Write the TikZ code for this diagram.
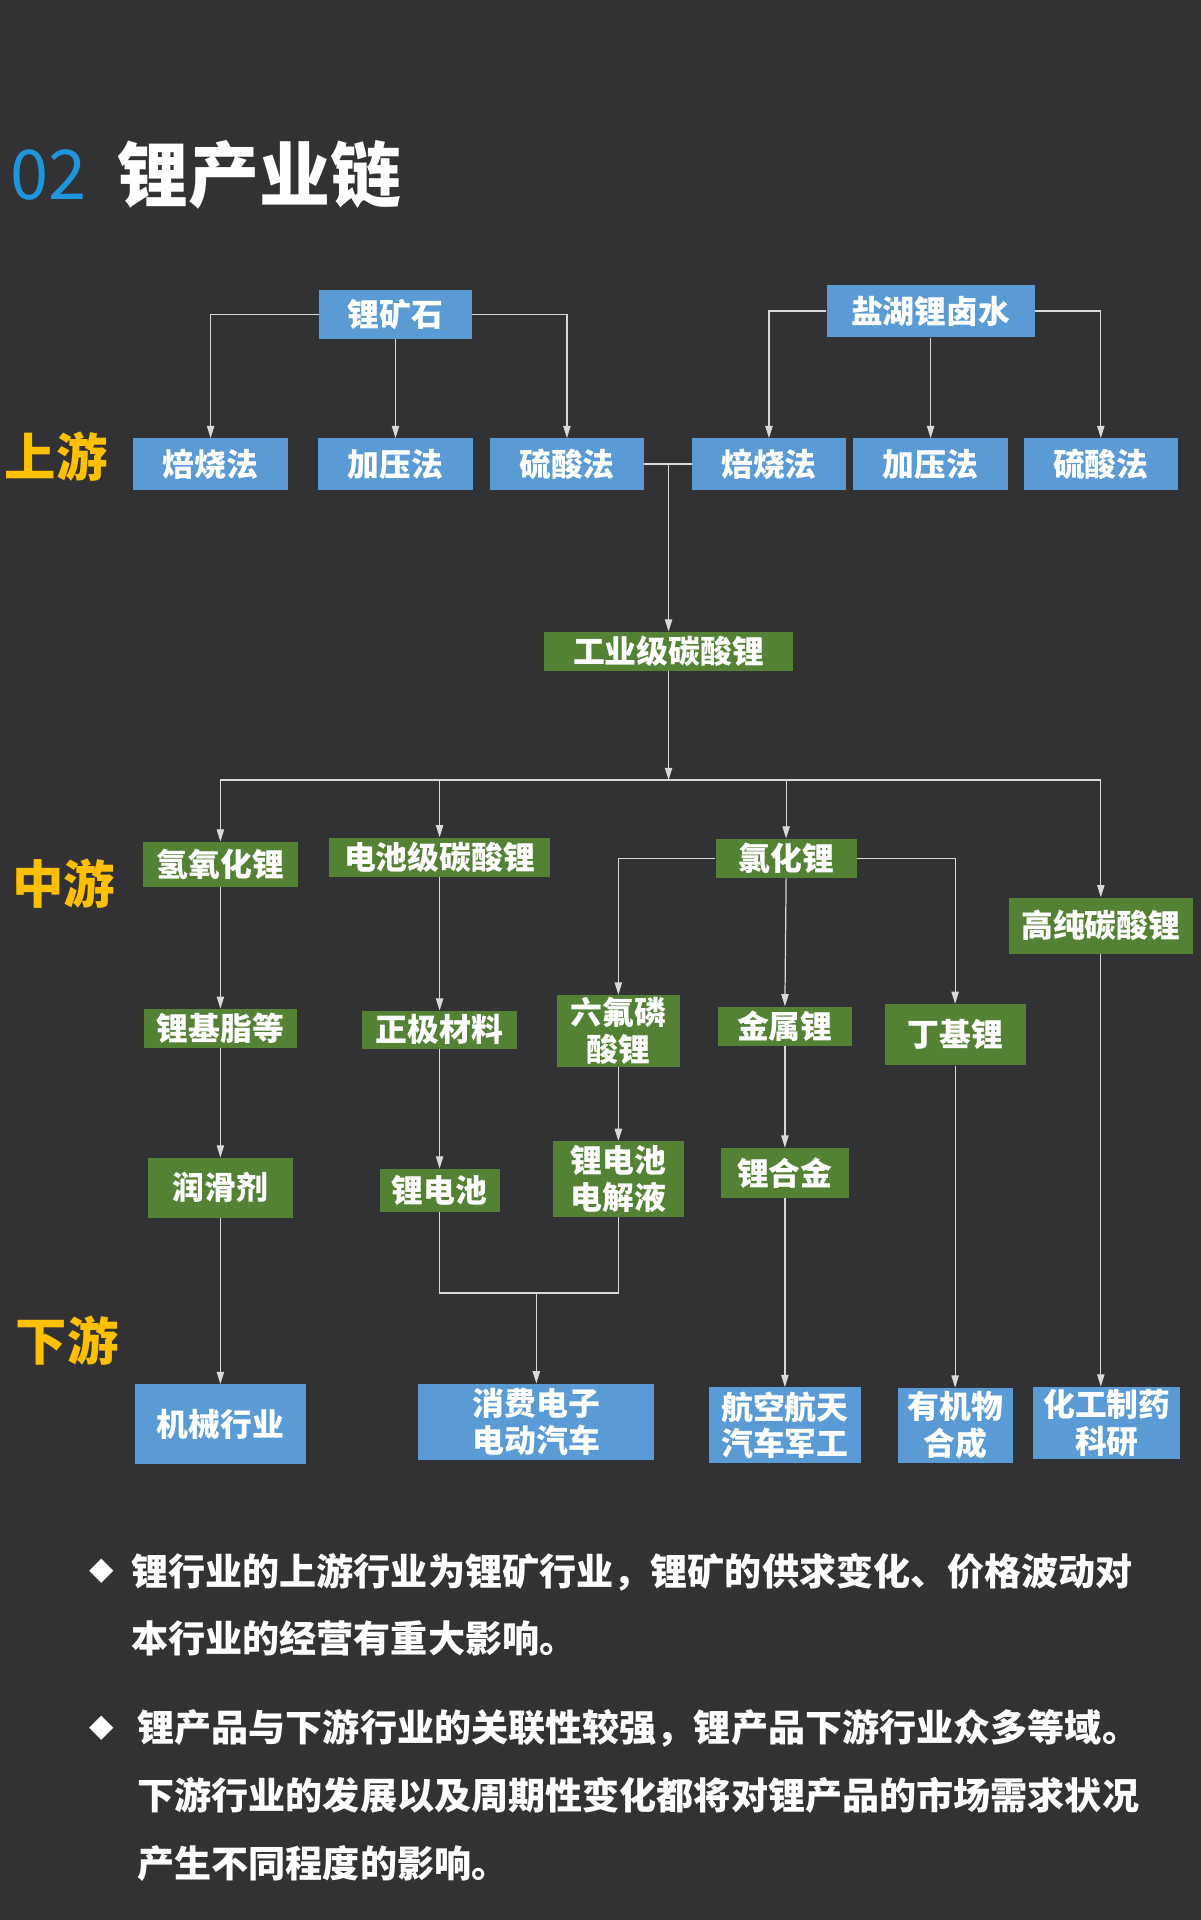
\documentclass[tikz,border=0pt]{standalone}
\usepackage{fontspec}
\setmainfont{Noto Sans CJK SC}
\newfontfamily\symfont{DejaVu Sans}
\usetikzlibrary{arrows.meta}

\definecolor{bgdark}{HTML}{323234}
\definecolor{upblue}{HTML}{5B9BD5}
\definecolor{midgreen}{HTML}{548235}
\definecolor{stageyellow}{HTML}{FFC000}
\definecolor{titleblue}{HTML}{1E96DC}
\definecolor{linegray}{HTML}{D9D9D9}

\begin{document}
\begin{tikzpicture}[x=1pt,y=-1pt,
  ubox/.style={fill=upblue, text=white, inner sep=0pt, align=center,
    font=\fontsize{26}{30}\selectfont\bfseries},
  mbox/.style={ubox, fill=midgreen},
  stage/.style={text=stageyellow, inner sep=0pt,
    font=\fontsize{42}{44}\selectfont\bfseries},
  link/.style={draw=linegray, line width=1pt},
  arr/.style={link, -{Triangle[length=10pt,width=6pt]}},
  note/.style={text=white, inner sep=0pt, anchor=west, align=left,
    font=\fontsize{30.3}{55.5}\selectfont\bfseries}]

\useasboundingbox (0,0) rectangle (980,1568);
\fill[bgdark] (-2,-2) rectangle (982,1570); %% page

%% title
\node[anchor=west, inner sep=0pt, text=titleblue,
  font=\fontsize{56}{60}\selectfont] (num) at (8,143) {02};
\node[anchor=west, inner sep=0pt, text=white,
  font=\fontsize{58}{60}\selectfont\bfseries] (title) at (96,143) {锂产业链};

%% upstream
\node[ubox, minimum width=125pt, minimum height=40pt] (ore) at (323,257) {锂矿石};
\node[ubox, minimum width=170pt, minimum height=43pt] (brine) at (760,254) {盐湖锂卤水};

\node[stage] (up) at (46,373) {上游};
\node[ubox, minimum width=127pt, minimum height=42pt] (u1) at (172,379) {焙烧法};
\node[ubox, minimum width=127pt, minimum height=42pt] (u2) at (323,379) {加压法};
\node[ubox, minimum width=126pt, minimum height=42pt] (u3) at (463,379) {硫酸法};
\node[ubox, minimum width=125pt, minimum height=42pt] (u4) at (628,379) {焙烧法};
\node[ubox, minimum width=126pt, minimum height=42pt] (u5) at (760,379) {加压法};
\node[ubox, minimum width=126pt, minimum height=42pt] (u6) at (899,379) {硫酸法};

\node[mbox, minimum width=204pt, minimum height=32pt] (ind) at (546,532) {工业级碳酸锂};

%% midstream
\node[stage] (mid) at (52,722) {中游};
\node[mbox, minimum width=127pt, minimum height=37pt] (hyd) at (180,706) {氢氧化锂};
\node[mbox, minimum width=181pt, minimum height=32pt] (bat) at (359,700) {电池级碳酸锂};
\node[mbox, minimum width=115pt, minimum height=32pt] (chl) at (642,701) {氯化锂};
\node[mbox, minimum width=150pt, minimum height=46pt] (hp) at (899,756) {高纯碳酸锂};

\node[mbox, minimum width=125pt, minimum height=32pt] (grease) at (180,840) {锂基脂等};
\node[mbox, minimum width=126pt, minimum height=31pt] (cath) at (359,841) {正极材料};
\node[mbox, minimum width=101pt, minimum height=59pt] (hex) at (505,842) {六氟磷\\酸锂};
\node[mbox, minimum width=110pt, minimum height=32pt] (met) at (641,838) {金属锂};
\node[mbox, minimum width=115pt, minimum height=50pt] (but) at (780,845) {丁基锂};

\node[mbox, minimum width=119pt, minimum height=49pt] (lub) at (180,970) {润滑剂};
\node[mbox, minimum width=98pt, minimum height=35pt] (libat) at (359,972) {锂电池};
\node[mbox, minimum width=107pt, minimum height=62pt] (elec) at (505,963) {锂电池\\电解液};
\node[mbox, minimum width=105pt, minimum height=41pt] (alloy) at (641,958) {锂合金};

%% downstream
\node[stage] (low) at (55,1095) {下游};
\node[ubox, minimum width=139pt, minimum height=65pt] (mech) at (180,1163) {机械行业};
\node[ubox, minimum width=193pt, minimum height=62pt] (cons) at (438,1161) {消费电子\\电动汽车};
\node[ubox, minimum width=124pt, minimum height=62pt] (aero) at (641,1164) {航空航天\\汽车军工};
\node[ubox, minimum width=94pt, minimum height=61pt] (org) at (780,1164) {有机物\\合成};
\node[ubox, minimum width=120pt, minimum height=59pt] (chem) at (904,1162) {化工制药\\科研};

%% connectors
\draw[arr] (ore.west) -| (u1.north);
\draw[arr] (ore.south) -- (u2.north);
\draw[arr] (ore.east) -| (u3.north);
\draw[arr] (brine.west) -| (u4.north);
\draw[arr] (brine.south) -- (u5.north);
\draw[arr] (brine.east) -| (u6.north);

\draw[link] (u3.east) -- (u4.west);
\coordinate (join1) at (ind.north |- u3.east);
\draw[arr] (join1) -- (ind.north);

\coordinate (bus) at (546,637);
\draw[arr] (ind.south) -- (bus);
\draw[arr] (bus) -| (hyd.north);
\draw[arr] (bus) -| (bat.north);
\draw[arr] (bus) -| (chl.north);
\draw[arr] (bus) -| (hp.north);

\draw[arr] (chl.west) -| (hex.north);
\draw[arr] (chl.east) -| (but.north);
\draw[arr] (chl.south) -- (met.north);

\draw[arr] (hyd.south) -- (grease.north);
\draw[arr] (grease.south) -- (lub.north);
\draw[arr] (lub.south) -- (mech.north);

\draw[arr] (bat.south) -- (cath.north);
\draw[arr] (cath.south) -- (libat.north);
\draw[arr] (hex.south) -- (elec.north);

\coordinate (join2) at (438,1056);
\draw[link] (libat.south) |- (join2) -| (elec.south);
\draw[arr] (join2) -- (cons.north);

\draw[arr] (met.south) -- (alloy.north);
\draw[arr] (alloy.south) -- (aero.north);
\draw[arr] (but.south) -- (org.north);
\draw[arr] (hp.south) -- (hp.south |- chem.north);

%% notes
\node[text=white, inner sep=0pt, font=\symfont\fontsize{26}{28}\selectfont]
  (dia1) at (83,1283) {◆};
\node[note] (note1) at (107,1310.5)
  {锂行业的上游行业为锂矿行业，锂矿的供求变化、价格波动对\\本行业的经营有重大影响。};
\node[text=white, inner sep=0pt, font=\symfont\fontsize{26}{28}\selectfont]
  (dia2) at (83,1411) {◆};
\node[note] (note2) at (112,1466.5)
  {锂产品与下游行业的关联性较强，锂产品下游行业众多等域。\\下游行业的发展以及周期性变化都将对锂产品的市场需求状况\\产生不同程度的影响。};

\end{tikzpicture}
\end{document}
